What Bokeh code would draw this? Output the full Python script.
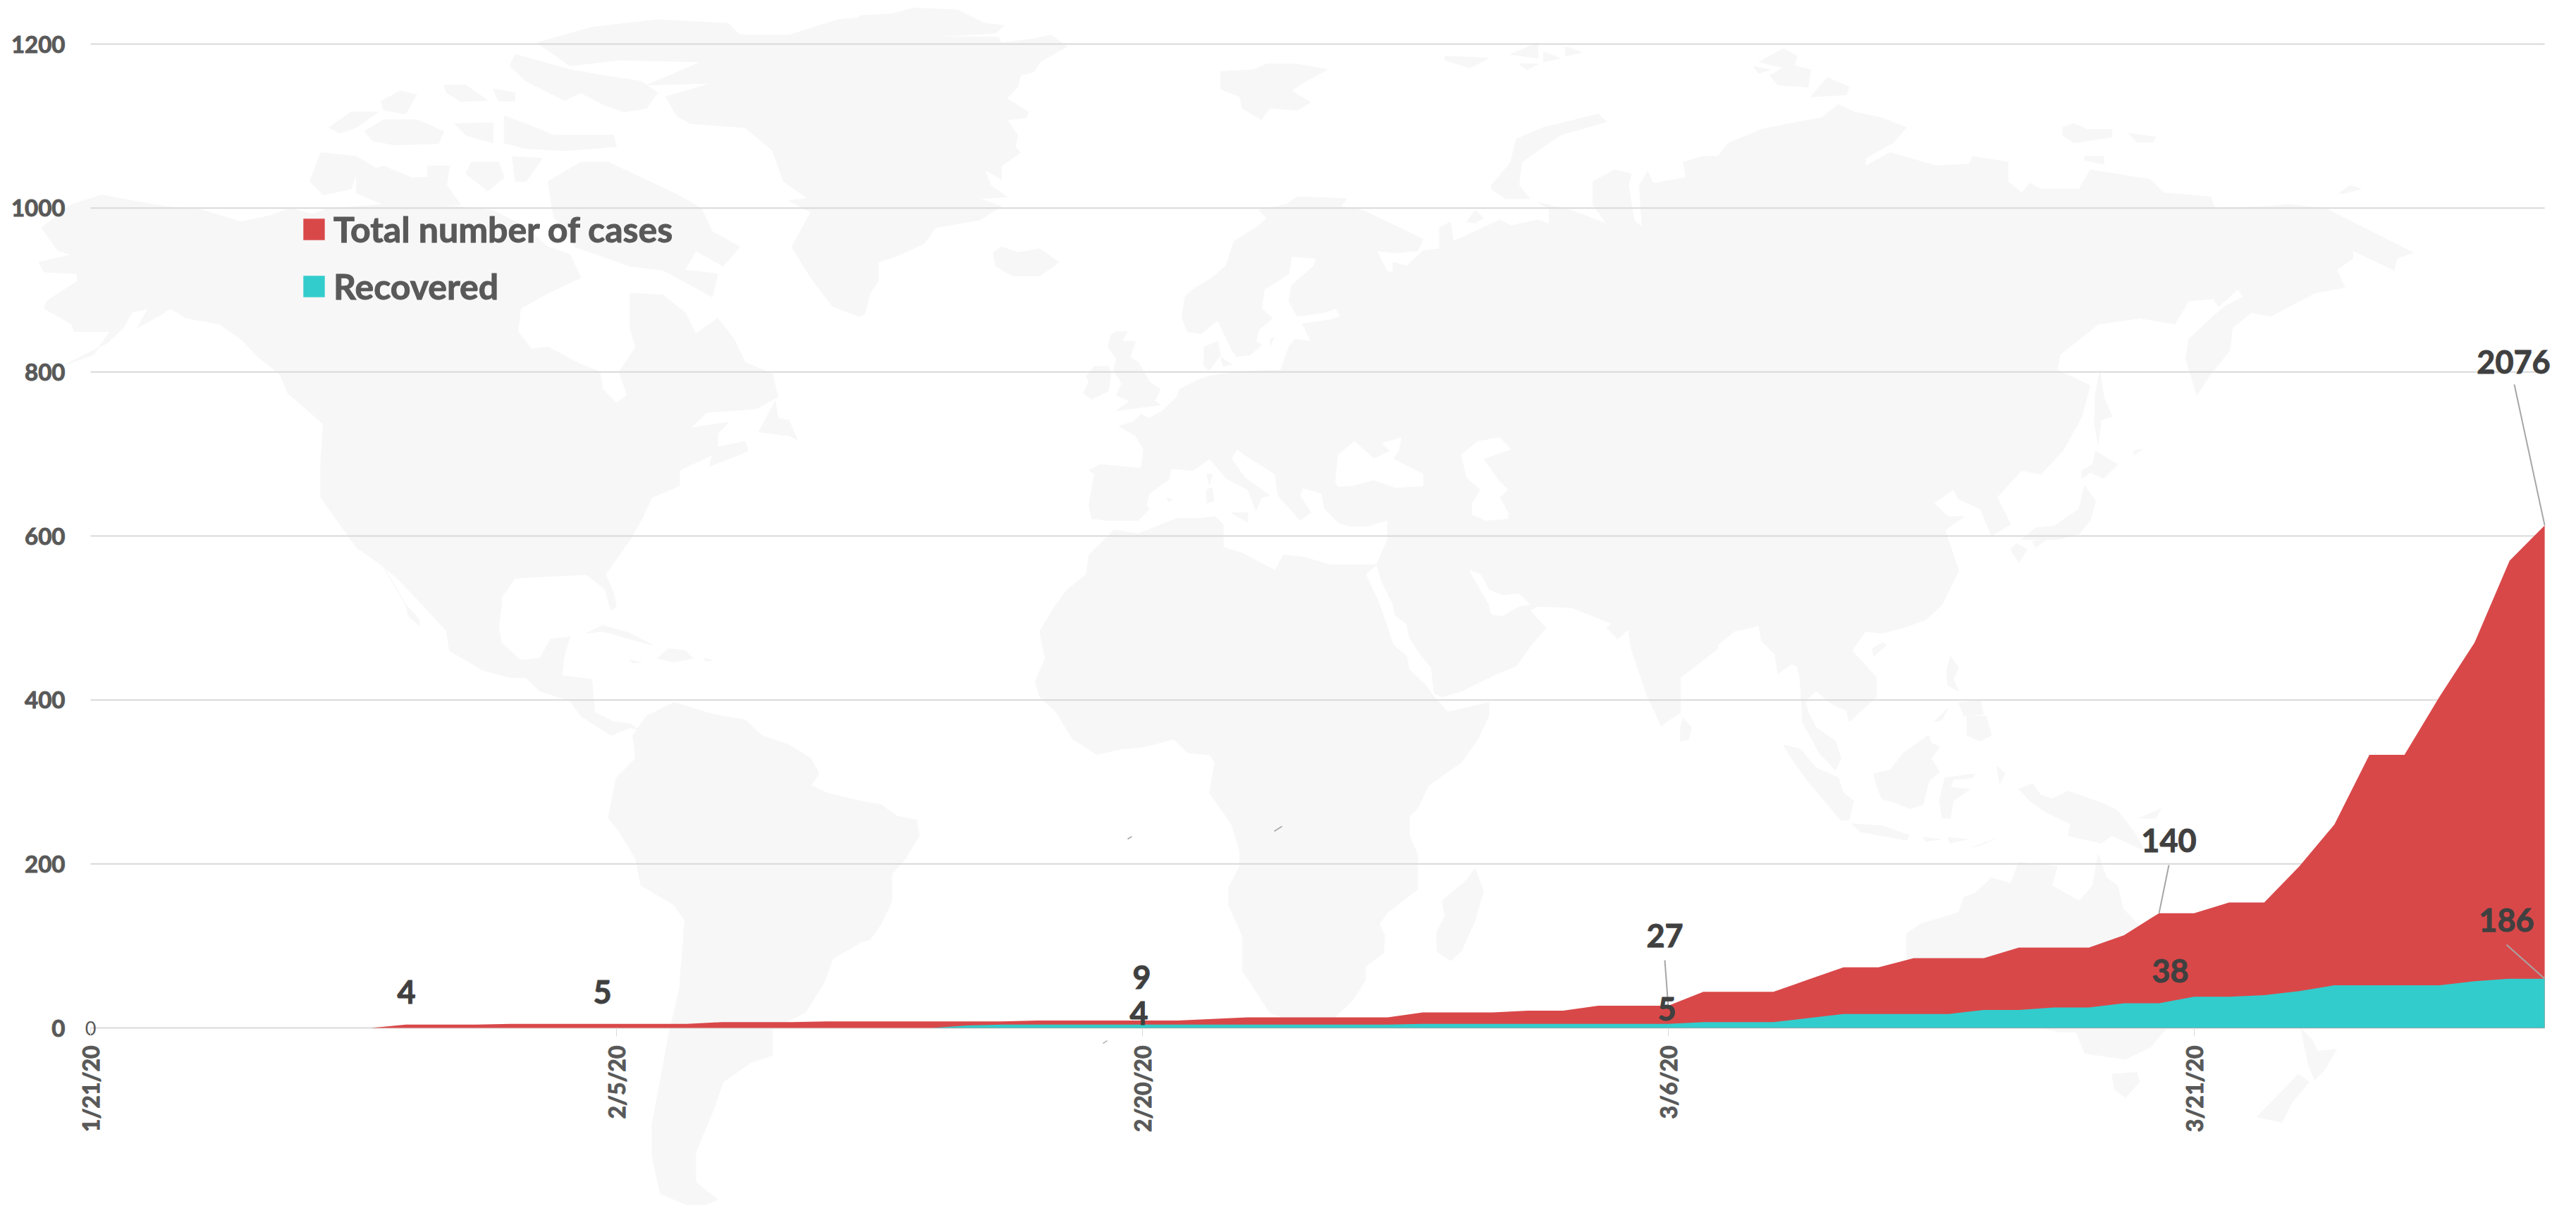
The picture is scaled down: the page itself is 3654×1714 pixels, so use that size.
from math import pi
from bokeh.plotting import figure
from bokeh.embed import file_html
from bokeh.resources import INLINE
from bokeh.core.properties import value
from bokeh.models import Range1d, LinearAxis, FixedTicker, Legend, LegendItem

# ---------- chart data ----------
total = [0,0,0,0,0,0,0,0,0, 4,4,4, 5,5,5,5,5,5, 7,7,7, 8,8,8,8,8,8, 9,9,9,9,9, 11,
         13,13,13,13,13, 19,19,19, 21,21, 27,27,27, 44,44,44, 59, 74,74, 85,85,85,
         98,98,98, 113, 140,140, 153,153, 197, 248, 333,333, 404, 470, 570, 613]
recovered = [0]*25 + [3] + [4,4,4,4,4,4,4,4,4,4,4,4] + [5,5,5,5,5,5,5,5] + [7,7,7, 12,
             17,17,17,17, 22,22, 25,25, 30,30, 38,38, 40, 45, 52,52,52,52, 57, 60,60]
series_names = ["Total number of cases", "Recovered"]
x_tick_days = [0, 15, 30, 45, 60]
x_tick_labels = ["1/21/20", "2/5/20", "2/20/20", "3/6/20", "3/21/20"]
y_ticks = [0, 200, 400, 600, 800, 1000, 1200]
label_texts = ["4", "5", "9", "4", "27", "5", "140", "38", "186", "2076"]

# ---------- layout (page pixels) ----------
PX_LEFT, PX_DAY = 128.0, 49.73
PX_BASE, PX_UNIT = 1458.0, 1.1633
W, H = 3650, 1710
def px(d): return PX_LEFT + d * PX_DAY
def py(v): return PX_BASE - v * PX_UNIT

label_cx = [576, 854, 1619, 1615, 2361, 2364, 3076, 3078, 3555, 3565]
label_cy = [1407, 1407, 1386, 1437, 1327, 1431, 1192, 1377, 1305, 513]
# leader lines: from the label towards its point (day, value)
leader_from = [(2361, 1362), (3076, 1227), (3555, 1340), (3566, 545)]
leader_to = [(45, 27), (59, 140), (70, 60), (70, 613)]
specks = [(1599, 1190, 1605, 1186.5), (1807, 1179, 1818, 1172), (1564, 1480, 1570, 1476)]

# ---------- background world map, traced per crop tile ----------
TILES = {"A": (0, 0), "B": (1218, 0), "C": (2436, 0), "D": (0, 857), "E": (1218, 857), "F": (2436, 857)}
def T(t, pts):
    x0, y0 = TILES[t]
    return [(x0 + a * 0.7768, y0 + b * 0.5466) for a, b in pts]

land = [
 # North America
 T("A", [(650,1420),(690,1460),(725,1500),(770,1568)]) +
 T("D", [(815,70),(820,120),(880,170),(930,190),(960,190),(985,225),(1040,250),(1060,290),(1115,340),(1150,320),(1165,325),(1150,310),(1120,305),(1085,280),(1080,195),(1025,185),(1030,130),(1040,85),(1005,90),(985,140),(950,145),(915,100),(910,60),(915,0)]) +
 T("A", [(915,1550),(940,1500),(1000,1495),(1070,1490),(1105,1530),(1112,1568)]) + T("D", [(1115,15),(1125,5)]) +
 T("A", [(1120,1540),(1105,1490),(1150,1400),(1170,1350),(1190,1290),(1240,1260),(1240,1220),(1300,1180),(1295,1210),(1365,1170),(1360,1145),(1310,1160),(1310,1125),(1330,1095),(1260,1110),(1290,1070),(1380,1060),(1420,1030),(1410,970),(1360,940),(1340,880),(1310,825),(1270,865),(1250,810),(1210,765),(1150,760),(1150,850),(1160,900),(1130,965),(1145,1025),(1125,1045),(1100,1010),(1095,965),(1060,945),(1000,900),(970,905),(945,860),(950,800),(1000,760),(1060,720),(1040,660),(1000,640),(960,590),(900,545),(800,530),(700,530),(600,540),(570,555),(530,540),(490,560),(440,575),(370,545),(300,535),(240,520),(185,505),(130,530),(75,590),(105,650),(130,660),(70,680),(80,705),(140,710),(140,730),(85,780),(80,800),(130,840),(135,860),(200,860),(170,920),(120,945),(195,890),(225,850),(240,810),(270,800),(250,850),(295,815),(310,800),(340,825),(400,840),(440,880),(470,925),(510,970),(525,1020),(590,1100),(585,1200),(585,1290),(615,1350)]),
 # Baja
 T("A", [(695,1460),(740,1568)]) + T("D", [(745,30),(765,55),(765,40),(740,0)]) + T("A", [(720,1520)]),
 # Canadian Arctic
 T("A", [(1000,470),(1060,420),(1110,420),(1170,460),(1230,500),(1280,540),(1300,600),(1350,640),(1320,690),(1270,650),(1250,700),(1310,710),(1300,770),(1210,700),(1150,690),(1050,640),(1010,560)]),
 T("A", [(940,140),(1040,180),(1100,195),(1170,210),(1200,240),(1180,280),(1140,290),(1100,270),(1060,240),(1030,260),(960,210),(930,170)]),
 T("A", [(810,220),(850,220),(890,260),(840,262),(815,240)]),
 T("A", [(900,230),(940,240),(940,262),(910,262)]),
 T("A", [(695,262),(730,235),(760,245),(740,295),(700,285)]),
 T("A", [(600,330),(640,290),(690,290),(650,330),(620,345)]),
 T("A", [(665,340),(700,310),(760,310),(810,340),(800,372),(720,375),(680,365)]),
 T("A", [(830,320),(900,318),(900,370),(850,350)]),
 T("A", [(920,300),(960,320),(1010,350),(1120,350),(1125,380),(1030,390),(960,385),(920,370)]),
 T("A", [(585,395),(650,405),(685,435),(650,450),(640,490),(590,505),(565,470)]),
 T("A", [(650,450),(700,430),(750,460),(780,460),(780,430),(820,430),(815,480),(840,530),(700,530),(650,500)]),
 T("A", [(860,420),(910,420),(920,460),(890,495),(850,450)]),
 T("A", [(935,405),(990,410),(960,470),(940,470)]),
 T("A", [(1415,1040),(1385,1120),(1440,1130),(1455,1140),(1440,1090),(1420,1085)]),
 # Greenland
 T("A", [(980,110),(1080,70),(1200,50),(1330,60),(1350,90),(1440,90),(1530,50),(1568,45)]) +
 T("B", [(0,40),(60,35),(100,20),(180,25),(230,60),(265,65),(250,85),(130,95),(215,95),(255,95),(260,110),(320,100),(350,90),(380,120),(330,160),(320,185),(295,195),(290,225),(270,255),(310,290),(305,305),(270,310),(290,350),(285,380),(295,395),(260,430),(260,465),(230,440),(240,480),(270,510),(220,515),(260,535),(220,570),(140,590),(120,630),(75,660),(35,680),(35,730),(20,760),(10,815),(0,820)]) +
 T("A", [(1568,820),(1520,795),(1480,720),(1445,640),(1480,550),(1440,520),(1475,515),(1430,470),(1410,390),(1360,330),(1260,320),(1235,300),(1215,250),(1300,215),(1180,220),(1280,160),(1130,155),(1040,170)]),
 # Caribbean
 T("D", [(1070,75),(1100,55),(1150,75),(1190,105),(1150,90),(1100,70)]),
 T("D", [(1200,140),(1220,115),(1250,120),(1265,140),(1230,150)]),
 T("D", [(1150,145),(1170,150),(1155,152)]),
 T("D", [(1285,140),(1300,145),(1288,148)]),
 # South America
 T("D", [(1180,290),(1230,255),(1300,285),(1360,300),(1390,340),(1440,365),(1480,400),(1495,440),(1480,470),(1510,490),(1568,510)]) +
 T("E", [(0,510),(40,520),(70,550),(105,560),(110,600),(85,660),(60,700),(60,770),(40,830),(20,870),(0,878)]) +
 T("D", [(1568,880),(1520,920),(1505,980),(1470,1060),(1410,1100),(1410,1170),(1370,1190),(1320,1240),(1300,1320),(1270,1420),(1270,1500),(1310,1545),(1270,1568),(1205,1530),(1190,1430),(1190,1350),(1210,1200),(1220,1120),(1240,1000),(1250,820),(1230,780),(1170,730),(1160,660),(1130,590),(1110,555),(1125,450),(1160,400),(1155,340)]),
 # Eurasia
 T("B", [(800,510),(890,515),(880,535),(920,545),(1030,620),(1020,650),(980,655),(945,650),(965,705),(975,705),(975,680),(1000,690),(1030,650),(1060,645),(1060,590),(1080,575),(1085,625),(1110,610),(1170,570),(1190,585),(1240,570),(1260,580),(1260,540),(1240,525),(1300,545),(1365,580),(1340,530),(1340,470),(1380,440),(1410,450),(1405,480),(1415,570),(1430,590),(1425,480),(1440,445),(1450,475),(1510,460),(1505,420),(1540,405),(1568,405)]) +
 T("C", [(0,405),(20,370),(80,335),(130,320),(190,305),(220,270),(250,290),(300,305),(345,330),(320,370),(270,410),(270,430),(315,395),(400,430),(460,425),(465,405),(530,420),(530,470),(555,500),(570,475),(590,490),(660,490),(680,440),(790,465),(815,500),(900,510),(908,540),(1005,535),(1040,530),(1110,540),(1200,605),(1270,655),(1240,670),(1235,700),(1160,650),(1160,670),(1130,700),(1145,745),(1090,760),(1010,820),(975,810),(940,850),(935,910),(900,970),(875,1025),(855,930),(860,880),(905,820),(925,795),(960,770),(950,750),(915,795),(905,775),(860,780),(835,840),(770,825),(695,840),(625,920),(620,960),(680,1000),(665,1080),(630,1170),(590,1230),(555,1220),(510,1290),(535,1360),(500,1390),(480,1320),(440,1295),(430,1270),(395,1305),(420,1340),(450,1340),(415,1375),(440,1480),(410,1568)]) +
 T("F", [(380,40),(340,60),(300,75),(270,70),(245,120),(290,190),(290,240),(240,305),(235,275),(210,260),(180,225),(160,250),(165,280),(180,320),(215,355),(225,400),(215,430),(185,385),(155,305),(150,190),(145,160),(135,155),(110,180),(105,130),(80,95),(75,55),(30,70),(0,105)]) +
 T("E", [(1568,115),(1500,190),(1500,280),(1465,315),(1440,240),(1410,115),(1405,65),(1385,90),(1365,60),(1375,50),(1340,30),(1300,8),(1240,5),(1225,15),(1240,40),(1255,60),(1225,110),(1200,160),(1165,180),(1100,225),(1065,240),(1050,230),(1045,165),(1020,120),(1005,85),(1000,50),(980,30),(975,0)]) +
 T("B", [(955,1510),(945,1465),(965,1400),(965,1350),(950,1355),(930,1365),(895,1365),(875,1355),(850,1320),(845,1280),(810,1265),(805,1285),(825,1330),(805,1350),(790,1325),(765,1285),(760,1230),(710,1185),(690,1165),(680,1190),(705,1240),(750,1285),(735,1290),(725,1325),(710,1270),(670,1240),(640,1190),(610,1220),(570,1215),(565,1245),(530,1280),(525,1310),(530,1320),(510,1350),(455,1350),(425,1345),(420,1310),(430,1230),(420,1220),(440,1205),(515,1215),(520,1165),(505,1130),(475,1105),(500,1095),(515,1075),(530,1085),(555,1065),(580,1030),(585,1010),(620,985),(640,975),(690,965),(750,960),(770,960),(785,900),(795,880),(825,885),(810,840),(860,830),(880,820),(870,800),(850,810),(800,820),(785,780),(790,740),(830,690),(835,670),(790,665),(785,710),(740,750),(735,800),(755,825),(730,855),(725,885),(735,895),(715,920),(690,925),(680,905),(665,860),(655,830),(625,865),(600,860),(590,825),(595,770),(610,750),(640,725),(670,690),(685,625),(725,590),(745,565),(730,545),(780,530)]),
 # Africa
 T("B", [(465,1375),(510,1385),(580,1345),(625,1345),(650,1340),(665,1360),(665,1420),(700,1435),(760,1480),(775,1440),(810,1445),(860,1465),(900,1465),(945,1465),(925,1490),(948,1560)]) +
 T("E", [(965,60),(975,105),(1000,135),(1005,170),(1035,210),(1050,240),(1075,280),(1150,255),(1150,290),(1130,350),(1100,410),(1040,470),(1020,530),(1005,550),(1005,600),(1020,650),(1020,740),(965,800),(950,830),(960,860),(958,905),(925,940),(925,975),(900,1030),(870,1070),(820,1095),(750,1060),(700,950),(700,860),(675,780),(675,735),(695,680),(695,640),(680,570),(640,490),(650,410),(640,390),(600,385),(575,350),(520,370),(480,375),(435,390),(390,350),(360,280),(330,240),(322,200),(340,140),(330,70),(360,0)]) +
 T("B", [(380,1530),(415,1490),(420,1440)]),
 T("E", [(1125,685),(1140,745),(1125,820),(1100,900),(1080,925),(1055,900),(1055,850),(1070,810),(1065,770),(1110,715)]),
 # Atlantic / Arctic islands
 T("B", [(245,655),(260,640),(290,655),(330,645),(365,680),(330,715),(280,715),(250,690)]),
 T("B", [(660,185),(720,180),(745,165),(800,165),(855,180),(810,215),(790,235),(825,265),(800,285),(750,280),(735,310),(700,280),(695,250),(660,230)]),
 T("B", [(1070,145),(1150,150),(1115,175),(1070,155)]),
 T("B", [(1190,140),(1240,110),(1240,150)]),
 T("B", [(1290,120),(1320,135),(1290,145)]),
 T("B", [(1205,165),(1240,165),(1220,180)]),
 T("B", [(1250,135),(1280,150),(1250,160)]),
 T("B", [(1155,480),(1190,420),(1200,360),(1250,330),(1280,320),(1350,295),(1365,315),(1280,350),(1210,420),(1205,480),(1225,515),(1180,515),(1155,490)]),
 T("B", [(1110,575),(1125,545),(1140,565),(1125,578)]),
 T("B", [(470,860),(490,860),(480,885),(505,885),(495,925),(510,940),(530,990),(550,1010),(540,1040),(550,1050),(470,1065),(495,1040),(470,1025),(480,995),(465,960),(470,930),(455,900),(460,870)]),
 T("B", [(430,950),(455,950),(460,970),(455,1015),(425,1035),(410,1020),(420,990),(415,975)]),
 T("B", [(630,900),(655,885),(660,920),(640,960),(630,950)]),
 T("B", [(660,925),(680,945),(665,950)]),
 T("B", [(750,880),(758,875),(752,895)]),
 T("B", [(680,1330),(710,1330),(710,1355),(685,1335)]),
 T("B", [(635,1270),(645,1265),(648,1300),(635,1305)]),
 T("B", [(635,1230),(645,1230),(640,1258)]),
 T("B", [(562,1292),(572,1295),(566,1302)]),
 # Siberian islands and Japan
 T("C", [(75,160),(120,125),(145,145),(140,170),(170,180),(165,225),(110,220),(95,195),(120,175)]),
 T("C", [(66,172),(95,180),(75,190)]),
 T("C", [(170,250),(200,200),(240,225),(235,245)]),
 T("C", [(630,330),(650,320),(675,335),(720,335),(720,355),(650,370),(630,350)]),
 T("C", [(750,345),(800,355),(795,368),(765,368)]),
 T("C", [(670,405),(705,405),(705,425),(670,415)]),
 T("C", [(1135,500),(1155,480),(1175,490),(1140,502)]),
 T("C", [(698,960),(705,1030),(720,1080),(700,1090),(695,1150),(688,1100),(690,1020)]),
 T("C", [(690,1170),(730,1205),(705,1240),(680,1225),(665,1240),(665,1220),(685,1205)]),
 T("C", [(670,1260),(690,1300),(680,1350),(660,1385),(620,1400),(555,1400),(580,1370),(615,1365),(660,1320)]),
 T("C", [(545,1410),(565,1425),(550,1460),(535,1425)]),
 T("C", [(575,1405),(600,1400),(580,1420)]),
 T("C", [(760,1170),(775,1165),(760,1180)]),
 # South-east Asia and Oceania
 T("E", [(1505,295),(1520,320),(1515,350),(1500,355),(1500,320)]),
 T("F", [(300,100),(308,105),(285,135),(282,115)]),
 T("F", [(425,135),(440,165),(430,195),(440,225),(420,210),(418,175)]),
 T("F", [(455,290),(490,290),(500,340),(480,355),(455,340)]),
 T("F", [(440,255),(480,250),(485,285),(450,290)]),
 T("F", [(395,305),(420,270),(410,300)]),
 T("F", [(285,440),(315,430),(340,385),(385,340),(390,360),(405,370),(390,400),(405,435),(385,460),(375,520),(350,530),(325,515),(300,505),(290,470)]),
 T("F", [(120,365),(150,375),(180,425),(220,450),(230,490),(248,510),(240,560),(225,560),(195,510),(165,460),(135,400)]),
 T("F", [(245,570),(300,575),(350,600),(345,612),(260,590)]),
 T("F", [(415,450),(470,440),(465,450),(430,455),(425,475),(460,480),(430,510),(425,555),(410,555),(405,510)]),
 T("F", [(420,605),(455,610),(425,620)]),
 T("F", [(465,630),(505,610),(480,625)]),
 T("F", [(375,605),(405,610),(380,615)]),
 T("F", [(510,420),(525,440),(515,465)]),
 T("F", [(550,480),(575,465),(590,495),(610,505),(640,485),(700,515),(730,535),(760,590),(780,640),(720,600),(700,620),(640,600),(645,570),(600,540),(570,510)]),
 T("F", [(770,555),(810,530),(800,555)]),
 T("F", [(345,855),(370,830),(440,800),(450,760),(470,750),(500,710),(535,725),(550,670),(620,680),(610,730),(660,770),(685,730),(695,650),(710,710),(730,730),(740,790),(780,850),(830,960),(820,1100),(790,1150),(745,1180),(715,1175),(670,1165),(655,1110),(625,1110),(400,1040),(345,920)]),
 T("F", [(720,1220),(765,1215),(770,1240),(745,1280),(725,1260)]),
 T("F", [(1065,1100),(1085,1130),(1095,1160),(1130,1155),(1110,1205),(1090,1235),(1078,1190)]),
 T("F", [(1060,1220),(1080,1240),(1050,1290),(1030,1345),(985,1330),(1040,1250)]),
]
water = [
 T("B", [(870,1250),(875,1180),(905,1145),(940,1190),(970,1170),(955,1150),(990,1135),(985,1170),(975,1190),(1030,1230),(1030,1260),(980,1265),(940,1245),(900,1260),(875,1262)]),
 T("B", [(1100,1180),(1130,1145),(1170,1135),(1190,1165),(1140,1190),(1170,1250),(1185,1270),(1170,1290),(1185,1330),(1185,1345),(1145,1350),(1120,1335),(1120,1305),(1135,1270),(1110,1240)]),
 T("B", [(1115,1480),(1135,1490),(1150,1530),(1175,1545),(1205,1540),(1225,1568)]) + T("E", [(1205,5),(1175,30),(1155,25),(1150,0)]),
]

# ---------- figure: the frame fills the page, the axes sit at fixed locations ----------
p = figure(width=W, height=H, output_backend="svg", toolbar_location=None,
           x_axis_type=None, y_axis_type=None, min_border=0,
           x_range=Range1d(-PX_LEFT / PX_DAY, (W - PX_LEFT) / PX_DAY),
           y_range=Range1d((PX_BASE - H) / PX_UNIT, PX_BASE / PX_UNIT))
p.grid.visible = False
p.outline_line_color = None
p.background_fill_color = "white"
p.extra_x_ranges["px"] = Range1d(0, W)
p.extra_y_ranges["px"] = Range1d(H, 0)

MAP = "#F7F7F7"
p.patches([[a for a, _ in s] for s in land], [[b for _, b in s] for s in land],
          fill_color=MAP, line_color=MAP, line_width=1, x_range_name="px", y_range_name="px")
p.patches([[a for a, _ in s] for s in water], [[b for _, b in s] for s in water],
          fill_color="white", line_color="white", line_width=1, x_range_name="px", y_range_name="px")

GRID = "#D9D9D9"
p.segment(x0=[0] * len(y_ticks), y0=y_ticks, x1=[70] * len(y_ticks), y1=y_ticks,
          line_color=GRID, line_width=2)

days = list(range(len(total)))
r_total = p.varea(x=days, y1=[0] * len(days), y2=total, fill_color="#D94849")
r_rec = p.varea(x=days, y1=[0] * len(days), y2=recovered, fill_color="#33CCCC")

# axes
xa = LinearAxis(fixed_location=0, ticker=FixedTicker(ticks=x_tick_days),
                major_label_overrides=dict(zip(x_tick_days, x_tick_labels)),
                major_label_orientation=pi / 2, major_label_standoff=13,
                major_tick_out=12, major_tick_in=0, minor_tick_line_color=None,
                major_tick_line_color=GRID, major_tick_line_width=1, axis_line_color=None,
                major_label_text_font="Lato", major_label_text_font_style="bold",
                major_label_text_font_size="32px", major_label_text_color="#595959",
                major_label_text_outline_color="#595959")
p.add_layout(xa, "below")
ya = LinearAxis(fixed_location=0, ticker=FixedTicker(ticks=y_ticks),
                major_label_standoff=36, major_tick_out=0, major_tick_in=0,
                minor_tick_line_color=None, major_tick_line_color=None, axis_line_color=None,
                major_label_text_font="Lato", major_label_text_font_style="bold",
                major_label_text_font_size="33px", major_label_text_color="#595959",
                major_label_text_outline_color="#595959")
p.add_layout(ya, "left")

# leaders
p.segment(x0=[a for a, _ in leader_from], y0=[b for _, b in leader_from],
          x1=[px(d) for d, _ in leader_to], y1=[py(v) for _, v in leader_to],
          line_color="#A6A6A6", line_width=2, x_range_name="px", y_range_name="px")
p.segment(x0=[s[0] for s in specks], y0=[s[1] for s in specks], x1=[s[2] for s in specks], y1=[s[3] for s in specks],
          line_color="#A6A6A6", line_width=1.5, x_range_name="px", y_range_name="px")

# data labels
p.text(x=label_cx, y=label_cy, text=label_texts, text_font=value("Lato"), text_font_style="bold",
       text_font_size="45px", text_color="#404040", text_outline_color="#404040", text_align="center", text_baseline="middle",
       x_range_name="px", y_range_name="px")
p.text(x=[0], y=[0], text=["0"], text_font=value("Lato"), text_font_size="27px", text_color="#595959",
       text_align="center", text_baseline="middle")

# legend
legend = Legend(items=[LegendItem(label=series_names[0], renderers=[r_total]),
                       LegendItem(label=series_names[1], renderers=[r_rec])],
                location=(426, H - 436), orientation="vertical", padding=0, margin=0,
                spacing=21, glyph_width=38, glyph_height=38, label_standoff=9,
                border_line_color=None, background_fill_alpha=0,
                label_text_font="Lato", label_text_font_style="bold",
                label_text_font_size="50px", label_text_color="#595959",
                label_text_outline_color="#595959")
p.add_layout(legend, "center")

open("out.html", "w").write(file_html(p, INLINE))
